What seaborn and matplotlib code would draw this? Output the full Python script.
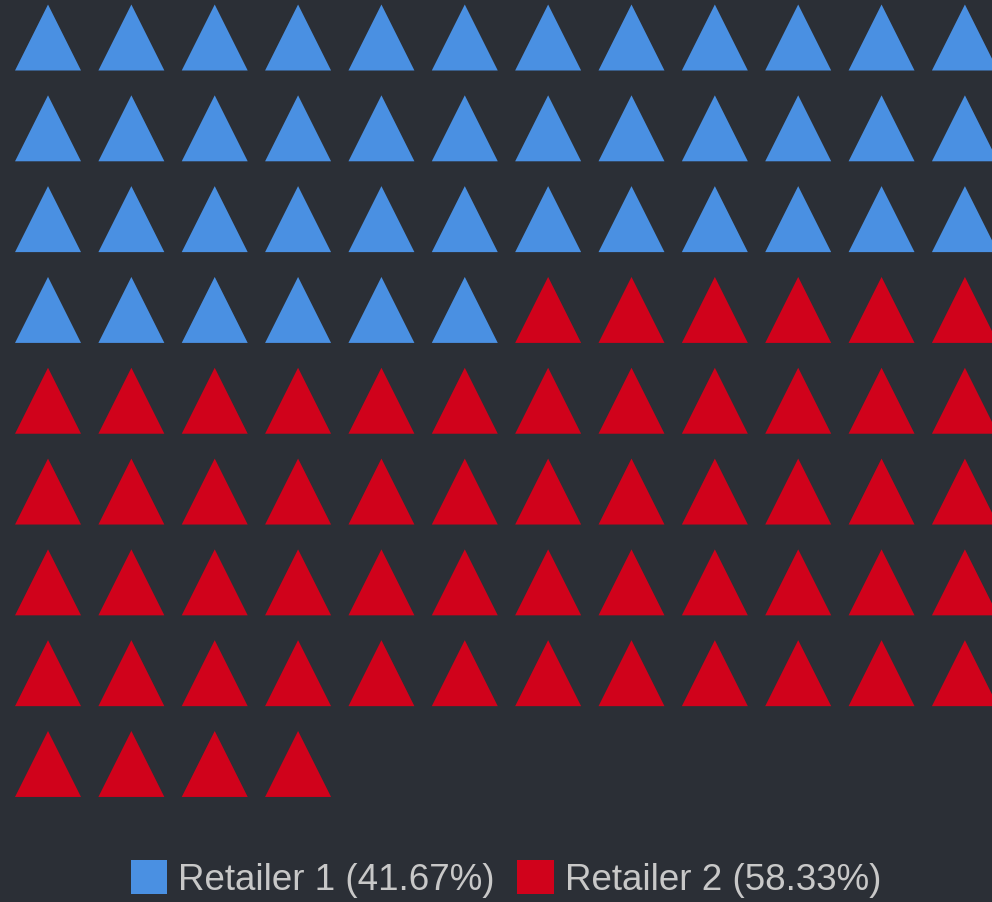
import numpy as np
import pandas as pd
import matplotlib
matplotlib.use("Agg")
import matplotlib.pyplot as plt
from matplotlib.patches import Patch
import seaborn as sns

# ---- data ----
categories = ["Retailer 1", "Retailer 2"]
counts = [42, 58]
percent_labels = ["41.67%", "58.33%"]
colors = ["#4A90E2", "#D0021B"]
n_cols = 12

# build waffle cell table
cells = []
idx = 0
for cat, n in zip(categories, counts):
    for _ in range(n):
        cells.append({"col": idx % n_cols, "row": idx // n_cols, "retailer": cat})
        idx += 1
df = pd.DataFrame(cells)

bg = "#2B2F36"
sns.set_theme(style="dark")
plt.rcParams["font.family"] = ["Liberation Sans", "DejaVu Sans"]

fig = plt.figure(figsize=(9.92, 9.02), dpi=100, facecolor=bg)
ax = fig.add_axes([0, 0, 1, 1])
ax.set_facecolor(bg)

sns.scatterplot(data=df, x="col", y="row", hue="retailer",
                palette=dict(zip(categories, colors)), marker="^",
                s=2256, linewidth=0, legend=False, ax=ax)

ax.set_xlim(-0.576, 11.325)
ax.set_ylim(9.52, -0.413)
ax.axis("off")

handles = [Patch(facecolor=c, edgecolor="none") for c in colors]
labels = [f"{c} ({p})" for c, p in zip(categories, percent_labels)]
fig.legend(handles, labels, loc="center", bbox_to_anchor=(0.51, 0.0255),
           ncol=2, frameon=False, fontsize=26.5, handlelength=1.0,
           handleheight=1.05, handletextpad=0.3, columnspacing=0.6,
           labelcolor="#C8C8C8")

fig.savefig("out.png", dpi=100, facecolor=bg)
